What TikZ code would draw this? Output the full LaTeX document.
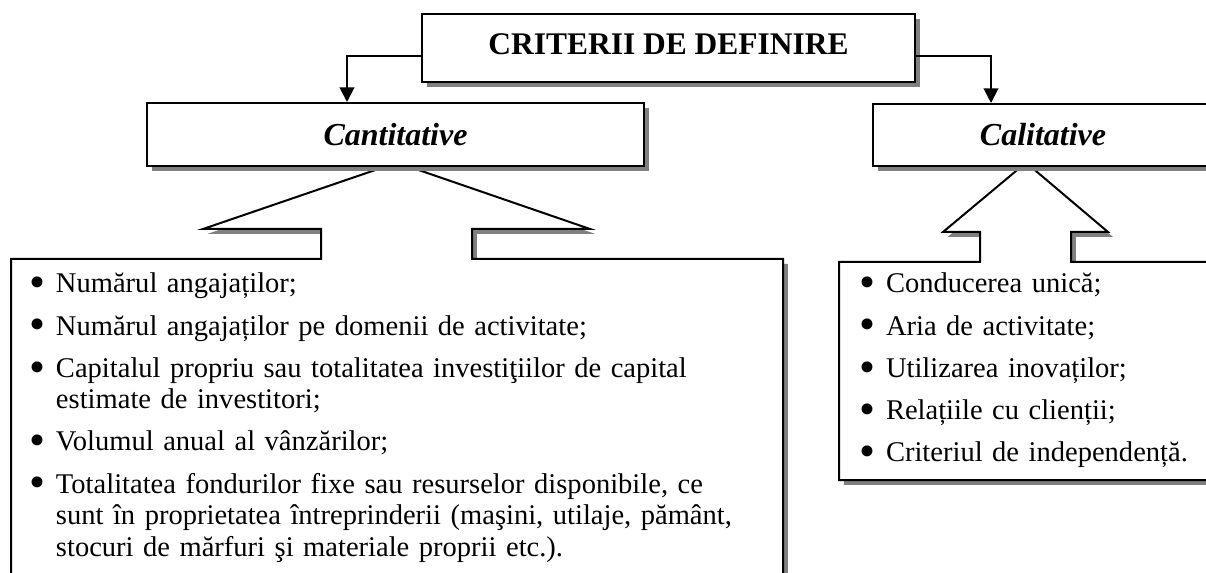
\documentclass[tikz,border=0pt]{standalone}
\usepackage{fontspec}
\usepackage{graphicx}
\setmainfont{Liberation Serif}
\usetikzlibrary{arrows.meta,shadows,calc}
\definecolor{shadowgray}{RGB}{128,128,128}
\newcommand\titlefont{\fontsize{23.6pt}{28pt}\selectfont\bfseries}
\newcommand\headfont{\fontsize{24pt}{28pt}\selectfont\bfseries\itshape}
\newcommand\listfont{\fontsize{21.4pt}{23.7pt}\selectfont}
\newcommand\bitem[1]{\hangindent=20.25pt\hangafter=1\noindent
  \makebox[20.25pt][l]{\raisebox{-0.17em}{\scalebox{1.6}{\textbullet}}}#1\par}
\tikzset{shadowed/.style={fill=white, drop shadow={shadow xshift=3.6pt, shadow yshift=-3.6pt, fill=shadowgray, opacity=1}},
  box/.style={draw, shadowed, inner sep=0pt},
  link/.style={-{Triangle[width=11pt,length=11pt]}},
  listing/.style={anchor=base west, inner sep=0pt, text width=560pt, font=\listfont}}

\begin{document}
\begin{tikzpicture}[x=0.75pt,y=-0.75pt,line width=1.5pt]
  \useasboundingbox (0,0) rectangle (1206,573);
  \clip (0,0) rectangle (1206,573);
  \draw[shadowed] (11,259) -- (321,259) -- (321,229) -- (203,229) -- (387,166) -- (407,166)
    -- (590,229) -- (472,229) -- (472,259) -- (783,259) -- (783,600) -- (11,600) -- cycle;
  \draw[shadowed] (839,262) -- (980,262) -- (980,232) -- (943,232) -- (1022,166) -- (1030,166)
    -- (1108,232) -- (1071,232) -- (1071,262) -- (1215,262) -- (1215,480) -- (839,480) -- cycle;
  \node[box, minimum width=369.75pt, minimum height=51pt, text depth=6pt, font=\titlefont] (title) at (668.5,48) {CRITERII DE DEFINIRE};
  \node[box, minimum width=372.75pt, minimum height=47.25pt, font=\headfont] (cantitative) at (395.5,134.5) {Cantitative};
  \node[box, minimum width=255pt, minimum height=46.5pt, font=\headfont] (calitative) at (1043,135) {Calitative};
  \draw[link] ($(title.west)+(0,8)$) -| ($(cantitative.north)+(-48.5,0)$);
  \draw[link] ($(title.east)+(0,8)$) -| ($(calitative.north)+(-52,0)$);
  \node[listing] (cantlist) at (28,293) {\setlength{\parskip}{7.9pt}%
    \bitem{Numărul angajaților;}
    \bitem{Numărul angajaților pe domenii de activitate;}
    \bitem{Capitalul propriu sau totalitatea investiţiilor de capital\newline estimate de investitori;}
    \bitem{Volumul anual al vânzărilor;}
    \bitem{Totalitatea fondurilor fixe sau resurselor disponibile, ce\newline sunt în proprietatea întreprinderii (maşini, utilaje, pământ,\newline stocuri de mărfuri şi materiale proprii etc.).}};
  \node[listing] (callist) at (858,293) {\setlength{\parskip}{7.9pt}%
    \bitem{Conducerea unică;}
    \bitem{Aria de activitate;}
    \bitem{Utilizarea inovaților;}
    \bitem{Relațiile cu clienții;}
    \bitem{Criteriul de independență.}};
\end{tikzpicture}
\end{document}
